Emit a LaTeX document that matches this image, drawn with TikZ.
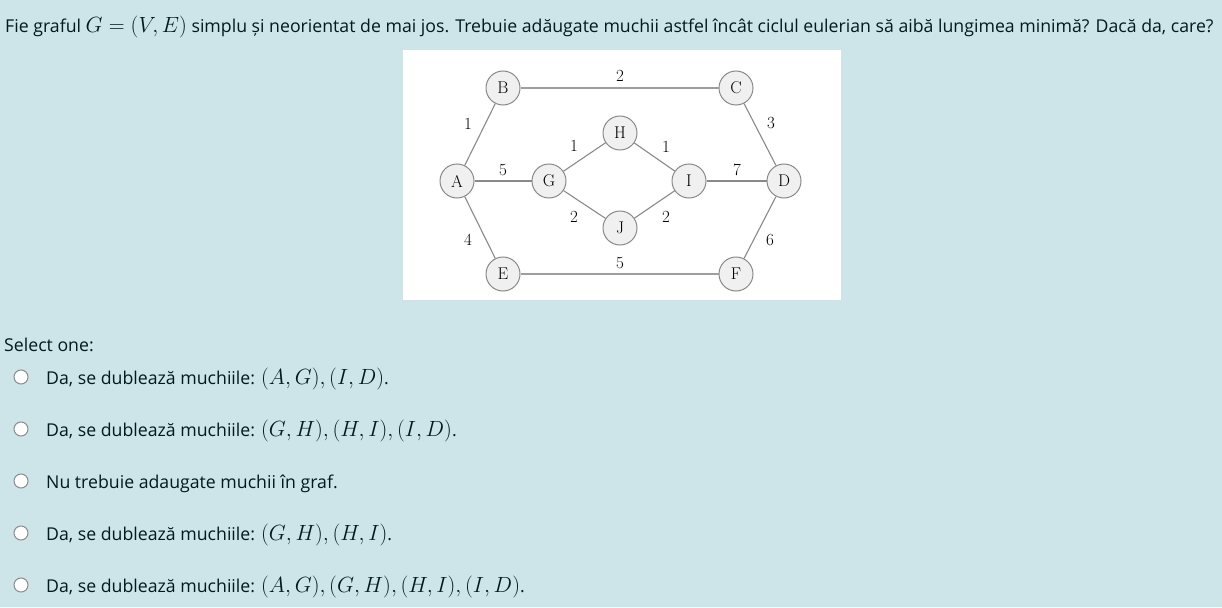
\RequirePackage{fix-cm}
\documentclass[tikz,border=0pt]{standalone}
\usepackage{fontspec}
\setsansfont{Open Sans}
\definecolor{bg}{HTML}{CDE5E9}
\definecolor{txt}{HTML}{001A1E}
\definecolor{edgegray}{HTML}{8A8A8A}
\definecolor{nodefill}{HTML}{F0F0F0}
\newcommand\mth[1]{{\fontsize{22}{20}\selectfont$#1$}}
\begin{document}
\begin{tikzpicture}[x=1pt,y=-1pt,
 vtx/.style={circle, draw=edgegray, fill=nodefill, minimum size=34pt, inner sep=0pt, font=\fontsize{17}{17}\selectfont, line width=1pt},
 edg/.style={draw=edgegray, line width=1.1pt},
 hedg/.style={draw=black!38, line width=1.8pt},
 wl/.style={font=\fontsize{17}{17}\selectfont, inner sep=0pt},
 qtext/.style={anchor=base west, inner sep=0pt, font=\sffamily\fontsize{17.7}{20}\selectfont, text=txt},
 radio/.style={circle, draw=black!45, fill=white, minimum size=14pt, inner sep=0pt, line width=1pt}]
\fill[bg] (0,0) rectangle (1222,607);
\useasboundingbox (0,0) rectangle (1222,607);
\fill[white] (403,50) rectangle (841,300);
% nodes
\node[vtx] (B) at (503,88) {B};
\node[vtx] (C) at (736,88) {C};
\node[vtx] (H) at (620,133) {H};
\node[vtx] (A) at (457,181) {A};
\node[vtx] (G) at (549,181) {G};
\node[vtx] (I) at (689,181) {I};
\node[vtx] (D) at (784,181) {D};
\node[vtx] (J) at (620,228) {J};
\node[vtx] (E) at (503,274) {E};
\node[vtx] (F) at (736,274) {F};
% edges
\draw[hedg] (B) -- (C);
\draw[hedg] (E) -- (F);
\draw[edg] (A) -- (B);
\draw[edg] (C) -- (D);
\draw[edg] (A) -- (G);
\draw[edg] (I) -- (D);
\draw[edg] (G) -- (H);
\draw[edg] (H) -- (I);
\draw[edg] (G) -- (J);
\draw[edg] (J) -- (I);
\draw[edg] (A) -- (E);
\draw[edg] (D) -- (F);
% weights
\node[wl] (wBC) at (620,76) {2};
\node[wl] (wAB) at (468,124) {1};
\node[wl] (wCD) at (771,123) {3};
\node[wl] (wGH) at (574,146) {1};
\node[wl] (wHI) at (666,147) {1};
\node[wl] (wAG) at (503,170) {5};
\node[wl] (wID) at (737,170) {7};
\node[wl] (wGJ) at (574,217) {2};
\node[wl] (wJI) at (666,217) {2};
\node[wl] (wAE) at (468,240) {4};
\node[wl] (wDF) at (770,240) {6};
\node[wl] (wEF) at (620,263) {5};
% text
\node[qtext] (q0) at (5,33) {Fie graful \mth{G = (V, E)} simplu și neorientat de mai jos. Trebuie adăugate muchii astfel încât ciclul eulerian să aibă lungimea minimă? Dacă da, care?};
\node[qtext] (sel) at (4,351) {Select one:};
\node[radio] (r1) at (21,377) {};
\node[radio] (r2) at (21,429) {};
\node[radio] (r3) at (21,481) {};
\node[radio] (r4) at (21,533) {};
\node[radio] (r5) at (21,585) {};
\node[qtext] (o1) at (46,384) {Da, se dublează muchiile: \mth{(A, G), (I, D)}.};
\node[qtext] (o2) at (46,436) {Da, se dublează muchiile: \mth{(G, H), (H, I), (I, D)}.};
\node[qtext] (o3) at (46,488) {Nu trebuie adaugate muchii în graf.};
\node[qtext] (o4) at (46,540) {Da, se dublează muchiile: \mth{(G, H), (H, I)}.};
\node[qtext] (o5) at (46,592) {Da, se dublează muchiile: \mth{(A, G), (G, H), (H, I), (I, D)}.};
\end{tikzpicture}
\end{document}
